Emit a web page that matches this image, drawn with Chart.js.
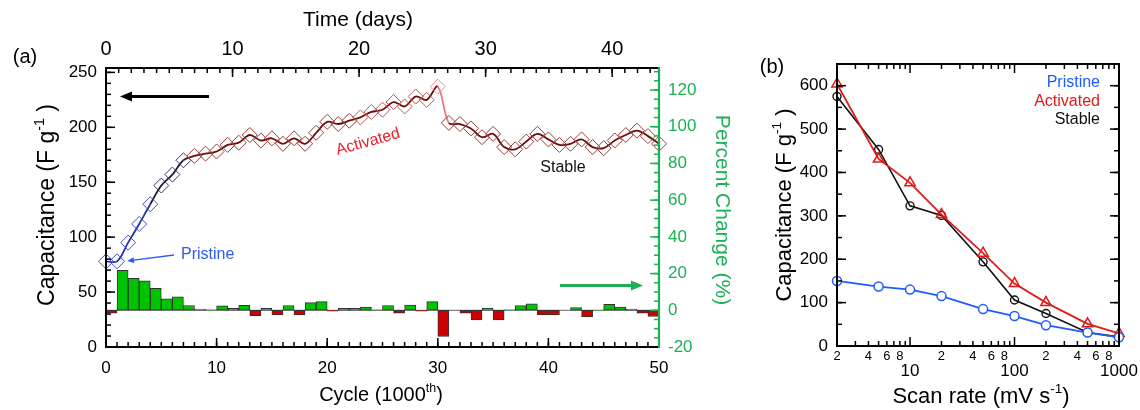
<!DOCTYPE html>
<html>
<head>
<meta charset="utf-8">
<script src="https://cdn.jsdelivr.net/npm/chart.js@4.4.0/dist/chart.umd.min.js"></script>
<style>
html, body { margin: 0; padding: 0; background: #fff; }
#wrap { position: relative; width: 1140px; height: 410px; }
#chartA { position: absolute; left: 0; top: 0; }
#chartB { position: absolute; left: 740px; top: 0; }
</style>
</head>
<body>
<div id="wrap">
  <canvas id="chartA" width="740" height="410"></canvas>
  <canvas id="chartB" width="400" height="410"></canvas>
</div>
<script>
/*///////////////////////////////////////////////////////////
資料 (a) 循環穩定性
///////////////////////////////////////////////////////////*/
var cycleNo = [0,1,2,3,4,5,6,7,8,9,10,11,12,13,14,15,16,17,18,19,20,21,22,23,24,25,
               26,27,28,29,30,31,32,33,34,35,36,37,38,39,40,41,42,43,44,45,46,47,48,49,50];
var capCycle = [78,78,95,112,130,147,157,170,174,176,178,184,186,193,188,190,185,190,185,195,205,
                203,206,209,214,216,223,219,228,225,237,204,203,199,191,194,182,180,187,194,
                189,184,185,189,182,181,188,193,197,192,185];
var pctMid = [0.5,1.5,2.5,3.5,4.5,5.5,6.5,7.5,8.5,9.5,10.5,11.5,12.5,13.5,14.5,15.5,16.5,17.5,18.5,19.5,
              20.5,21.5,22.5,23.5,24.5,25.5,26.5,27.5,28.5,29.5,30.5,31.5,32.5,33.5,34.5,35.5,36.5,37.5,38.5,39.5,
              40.5,41.5,42.5,43.5,44.5,45.5,46.5,47.5,48.5,49.5];
var pctChange = [-1.6,21.8,17.4,16,12,6.2,7.3,2.6,0.7,0.2,
                 2.4,1.1,2.7,-2.9,1.1,-2.5,2.6,-2.5,4.2,4.7,
                 -0.5,1.1,1.1,1.8,0.3,2.6,-1.6,2.9,-0.5,4.7,
                 -14.3,0,-1.6,-5.3,1.2,-5.3,0.2,2.6,3.5,-2.5,
                 -2.5,0,1.5,-3.6,0.1,3.3,1.8,0.6,-1.6,-3.4];
var capTicks = [0,50,100,150,200,250];
var pctTicks = [-20,0,20,40,60,80,100,120];
var cycleTicks = [0,10,20,30,40,50];
var dayTicks = [0,10,20,30,40];

/*///////////////////////////////////////////////////////////
資料 (b) 掃描速率
///////////////////////////////////////////////////////////*/
var scanRate = [2,5,10,20,50,100,200,500,1000];
var capPristine = [150,137,130,115,85,69,48,31,20];
var capActivated = [604,431,376,303,214,144,100,51,29];
var capStable = [575,453,323,301,194,106,75,31,21];
var capTicksB = [0,100,200,300,400,500,600];
var rateSmall = [2,4,6,8,20,40,60,80,200,400,600,800];
var rateDecade = [10,100,1000];

var FONT = "'Liberation Sans', Arial, sans-serif";
var NARROW = "'Liberation Sans Narrow', 'Liberation Sans', Arial, sans-serif";
var GREEN = '#1daf55';

Chart.defaults.font.family = FONT;
Chart.defaults.color = '#000';

/*///////////////////////////////////////////////////////////
小工具
///////////////////////////////////////////////////////////*/
function range(a, b, st) {
    var out = [];
    for (var v = a; v <= b + 1e-9; v += st) out.push(Math.round(v * 1000) / 1000);
    return out;
}

function tickMarks(ctx, sc, vals, len, side, area) {
    vals.forEach(function (v) {
        var p = sc.getPixelForValue(v);
        ctx.beginPath();
        if (side === 'left') { ctx.moveTo(area.left, p); ctx.lineTo(area.left + len, p); }
        else if (side === 'right') { ctx.moveTo(area.right, p); ctx.lineTo(area.right - len, p); }
        else if (side === 'bottom') { ctx.moveTo(p, area.bottom); ctx.lineTo(p, area.bottom - len); }
        else { ctx.moveTo(p, area.top); ctx.lineTo(p, area.top + len); }
        ctx.stroke();
    });
}

// parts: [text, isSup]
function rich(ctx, parts, x, y, size, color, rot, font) {
    font = font || FONT;
    ctx.save();
    ctx.translate(x, y);
    if (rot) ctx.rotate(rot);
    ctx.fillStyle = color;
    ctx.textBaseline = 'middle';
    ctx.textAlign = 'left';
    var w = 0;
    parts.forEach(function (p) {
        ctx.font = (p[1] ? size * 0.62 : size) + 'px ' + font;
        w += ctx.measureText(p[0]).width;
    });
    var cx = -w / 2;
    parts.forEach(function (p) {
        ctx.font = (p[1] ? size * 0.62 : size) + 'px ' + font;
        ctx.fillText(p[0], cx, p[1] ? -size * 0.33 : 0);
        cx += ctx.measureText(p[0]).width;
    });
    ctx.restore();
}

function arrow(ctx, x1, y1, x2, y2, color, lw, hl, hw) {
    var ang = Math.atan2(y2 - y1, x2 - x1);
    var bx = x2 - Math.cos(ang) * hl, by = y2 - Math.sin(ang) * hl;
    ctx.save();
    ctx.strokeStyle = color; ctx.fillStyle = color; ctx.lineWidth = lw;
    ctx.beginPath(); ctx.moveTo(x1, y1); ctx.lineTo(bx, by); ctx.stroke();
    ctx.beginPath();
    ctx.moveTo(x2, y2);
    ctx.lineTo(bx + Math.sin(ang) * hw, by - Math.cos(ang) * hw);
    ctx.lineTo(bx - Math.sin(ang) * hw, by + Math.cos(ang) * hw);
    ctx.closePath(); ctx.fill();
    ctx.restore();
}

function ptColor(i) {
    if (i <= 4) return '#4848d8';
    if (i <= 7) return '#3a3a5a';
    if (i === 30) return '#f08a8a';
    if (i >= 23 && i <= 29) return '#c25656';
    return '#9a3a3a';
}
function lineColor(i) {
    if (i < 4) return '#2233aa';
    if (i < 7) return '#1a1a3a';
    if (i === 30) return '#f07878';
    return '#6a0d0d';
}
function fixTicks(list) {
    return function (s) { s.ticks = list.map(function (v) { return { value: v }; }); };
}

/*///////////////////////////////////////////////////////////
(a) 裝飾
///////////////////////////////////////////////////////////*/
var decorA = {
    id: 'decorA',
    beforeDatasetsDraw: function (chart) {
        var ctx = chart.ctx, a = chart.chartArea, y0 = chart.scales.yR.getPixelForValue(0);
        ctx.save();
        ctx.strokeStyle = '#666'; ctx.lineWidth = 1;
        ctx.beginPath(); ctx.moveTo(a.left, y0); ctx.lineTo(a.right, y0); ctx.stroke();
        ctx.restore();
    },
    afterDraw: function (chart) {
        var ctx = chart.ctx, a = chart.chartArea, s = chart.scales;
        ctx.save();
        ctx.lineWidth = 1.5; ctx.strokeStyle = '#000';
        tickMarks(ctx, s.y, range(0, 250, 10), 5, 'left', a);
        tickMarks(ctx, s.y, capTicks, 9, 'left', a);
        tickMarks(ctx, s.x, range(0, 50, 1), 5, 'bottom', a);
        tickMarks(ctx, s.x, cycleTicks, 9, 'bottom', a);
        tickMarks(ctx, s.xTop, range(0, 43, 1), 5, 'top', a);
        tickMarks(ctx, s.xTop, dayTicks, 9, 'top', a);
        ctx.strokeStyle = GREEN;
        tickMarks(ctx, s.yR, range(-20, 130, 5), 5, 'right', a);
        tickMarks(ctx, s.yR, pctTicks, 9, 'right', a);
        // frame
        ctx.lineWidth = 2; ctx.strokeStyle = '#000';
        ctx.beginPath();
        ctx.moveTo(a.right, a.top); ctx.lineTo(a.left, a.top); ctx.lineTo(a.left, a.bottom); ctx.lineTo(a.right, a.bottom);
        ctx.stroke();
        ctx.strokeStyle = GREEN; ctx.lineWidth = 2.2;
        ctx.beginPath(); ctx.moveTo(a.right, a.top - 1); ctx.lineTo(a.right, a.bottom + 1); ctx.stroke();
        ctx.restore();

        // titles
        rich(ctx, [['(a)', 0]], 25, 57, 20, '#000');
        rich(ctx, [['Time (days)', 0]], 358, 20, 21, '#000', 0, NARROW);
        rich(ctx, [['Cycle (1000', 0], ['th', 1], [')', 0]], 381, 395, 20, '#000');
        rich(ctx, [['Capacitance (F g', 0], ['-1', 1], [' )', 0]], 48, 205, 23, '#000', -Math.PI / 2);
        rich(ctx, [['Percent Change (%)', 0]], 722, 210, 21, GREEN, Math.PI / 2);

        // labels in plot
        ctx.save();
        ctx.font = '16px ' + FONT; ctx.textBaseline = 'middle';
        ctx.fillStyle = '#2f5bf0'; ctx.textAlign = 'left';
        ctx.fillText('Pristine', 181, 255);
        ctx.fillStyle = '#111'; ctx.textAlign = 'center';
        ctx.fillText('Stable', 563, 168);
        ctx.translate(368, 142); ctx.rotate(-0.27);
        ctx.fillStyle = '#e5212b';
        ctx.fillText('Activated', 0, 0);
        ctx.restore();

        arrow(ctx, 209, 96.5, 120, 96.5, '#000', 3, 12, 5);
        arrow(ctx, 560, 285.5, 643, 285.5, GREEN, 3, 12, 5);
        arrow(ctx, 174, 255, 127, 261, '#2f5bf0', 1.4, 7, 3);
    }
};

var chartA = new Chart(document.getElementById('chartA'), {
    type: 'line',
    data: {
        datasets: [{
            type: 'line',
            label: 'Capacitance',
            xAxisID: 'x',
            yAxisID: 'y',
            order: 0,
            data: cycleNo.map(function (c, i) { return { x: c, y: capCycle[i] }; }),
            borderWidth: 1.8,
            tension: 0.35,
            clip: false,
            pointStyle: 'rectRot',
            pointRadius: 7.5,
            pointBorderWidth: 1,
            pointBackgroundColor: 'rgba(255,255,255,0)',
            pointBorderColor: cycleNo.map(ptColor),
            segment: { borderColor: function (c) { return lineColor(c.p0DataIndex); } }
        }, {
            type: 'bar',
            label: 'Percent Change',
            xAxisID: 'x',
            yAxisID: 'yR',
            order: 1,
            data: pctMid.map(function (m, i) { return { x: m, y: pctChange[i] }; }),
            backgroundColor: pctChange.map(function (v) { return v < 0 ? '#cc0000' : '#00c400'; }),
            borderColor: '#333',
            borderWidth: 1,
            borderSkipped: false,
            barPercentage: 1,
            categoryPercentage: 1
        }]
    },
    options: {
        responsive: false,
        animation: false,
        layout: { padding: 0 },
        plugins: { legend: { display: false }, tooltip: { enabled: false } },
        scales: {
            x: {
                type: 'linear', position: 'bottom', min: 0, max: 50, offset: false,
                grid: { display: false, drawTicks: false }, border: { display: false },
                afterBuildTicks: fixTicks(cycleTicks),
                ticks: { padding: 11, font: { size: 17 }, maxRotation: 0 },
                afterFit: function (sc) { sc.height = 63; }
            },
            xTop: {
                type: 'linear', position: 'top', min: 0, max: 43.7, offset: false,
                grid: { display: false, drawTicks: false }, border: { display: false },
                afterBuildTicks: fixTicks(dayTicks),
                ticks: { padding: 7, font: { size: 20, family: NARROW }, maxRotation: 0 },
                afterFit: function (sc) { sc.height = 68; }
            },
            y: {
                type: 'linear', position: 'left', min: 0, max: 254,
                grid: { display: false, drawTicks: false }, border: { display: false },
                afterBuildTicks: fixTicks(capTicks),
                ticks: { padding: 9, font: { size: 17 } },
                afterFit: function (sc) { sc.width = 106; }
            },
            yR: {
                type: 'linear', position: 'right', min: -20, max: 132,
                grid: { display: false, drawTicks: false }, border: { display: false },
                afterBuildTicks: fixTicks(pctTicks),
                ticks: { padding: 9, font: { size: 17 }, color: GREEN },
                afterFit: function (sc) { sc.width = 81; }
            }
        }
    },
    plugins: [decorA]
});

/*///////////////////////////////////////////////////////////
(b) 裝飾
///////////////////////////////////////////////////////////*/
var decorB = {
    id: 'decorB',
    afterDraw: function (chart) {
        var ctx = chart.ctx, a = chart.chartArea, s = chart.scales;
        var minor = [];
        [1, 10, 100].forEach(function (d) {
            for (var k = 2; k <= 9; k++) if (k * d >= 2 && k * d <= 1000) minor.push(k * d);
        });
        ctx.save();
        ctx.lineWidth = 1.5; ctx.strokeStyle = '#000';
        tickMarks(ctx, s.x, minor, 5, 'bottom', a);
        tickMarks(ctx, s.x, minor, 5, 'top', a);
        tickMarks(ctx, s.x, rateDecade, 9, 'bottom', a);
        tickMarks(ctx, s.x, rateDecade, 9, 'top', a);
        tickMarks(ctx, s.y, range(0, 650, 50), 5, 'left', a);
        tickMarks(ctx, s.y, range(0, 650, 50), 5, 'right', a);
        tickMarks(ctx, s.y, capTicksB, 9, 'left', a);
        tickMarks(ctx, s.y, capTicksB, 9, 'right', a);
        ctx.lineWidth = 2;
        ctx.strokeRect(a.left, a.top, a.right - a.left, a.bottom - a.top);

        // x labels
        ctx.fillStyle = '#000'; ctx.textAlign = 'center'; ctx.textBaseline = 'middle';
        ctx.font = '13px ' + FONT;
        rateSmall.forEach(function (v) { ctx.fillText(String(v).charAt(0), s.x.getPixelForValue(v), a.bottom + 10); });
        ctx.font = '17px ' + FONT;
        rateDecade.forEach(function (v) { ctx.fillText(String(v), s.x.getPixelForValue(v), a.bottom + 25); });

        // legend
        ctx.font = '16px ' + FONT; ctx.textAlign = 'right';
        ctx.fillStyle = '#1f5cff'; ctx.fillText('Pristine', 360, 83);
        ctx.fillStyle = '#e01b1b'; ctx.fillText('Activated', 360, 102);
        ctx.fillStyle = '#111'; ctx.fillText('Stable', 360, 120);
        ctx.restore();

        rich(ctx, [['(b)', 0]], 32, 67, 20, '#000');
        rich(ctx, [['Capacitance (F g', 0], ['-1', 1], [' )', 0]], 45, 205, 22, '#000', -Math.PI / 2);
        rich(ctx, [['Scan rate (mV s', 0], ['-1', 1], [')', 0]], 241, 397, 22, '#000');
    }
};

var chartB = new Chart(document.getElementById('chartB'), {
    type: 'line',
    data: {
        datasets: [{
            label: 'Pristine',
            data: scanRate.map(function (r, i) { return { x: r, y: capPristine[i] }; }),
            borderColor: '#1f5cff', borderWidth: 1.8,
            pointStyle: 'circle', pointRadius: 4.5, pointBorderWidth: 1.5,
            pointBorderColor: '#1f5cff', pointBackgroundColor: '#fff', clip: false
        }, {
            label: 'Activated',
            data: scanRate.map(function (r, i) { return { x: r, y: capActivated[i] }; }),
            borderColor: '#e01b1b', borderWidth: 1.8,
            pointStyle: 'triangle', pointRadius: 6, pointBorderWidth: 1.5,
            pointBorderColor: '#e01b1b', pointBackgroundColor: 'rgba(255,255,255,0)', clip: false
        }, {
            label: 'Stable',
            data: scanRate.map(function (r, i) { return { x: r, y: capStable[i] }; }),
            borderColor: '#111', borderWidth: 1.6,
            pointStyle: 'circle', pointRadius: 4, pointBorderWidth: 1.4,
            pointBorderColor: '#111', pointBackgroundColor: 'rgba(255,255,255,0)', clip: false
        }]
    },
    options: {
        responsive: false,
        animation: false,
        layout: { padding: { top: 64, right: 21, left: 0, bottom: 0 } },
        plugins: { legend: { display: false }, tooltip: { enabled: false } },
        scales: {
            x: {
                type: 'logarithmic', position: 'bottom', min: 2, max: 1000,
                grid: { display: false, drawTicks: false }, border: { display: false },
                ticks: { display: false },
                afterFit: function (sc) { sc.height = 64; }
            },
            y: {
                type: 'linear', position: 'left', min: 0, max: 650,
                grid: { display: false, drawTicks: false }, border: { display: false },
                afterBuildTicks: fixTicks(capTicksB),
                ticks: { padding: 9, font: { size: 17 } },
                afterFit: function (sc) { sc.width = 97; }
            }
        }
    },
    plugins: [decorB]
});
</script>
</body>
</html>
